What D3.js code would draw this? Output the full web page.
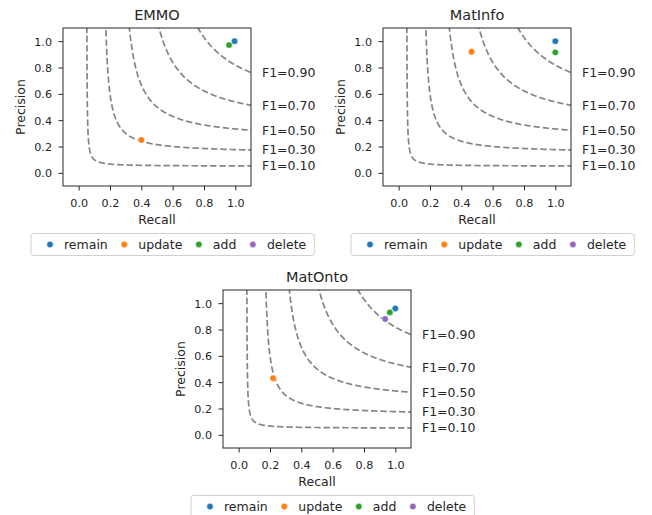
<!DOCTYPE html>
<html><head><meta charset="utf-8">
<script src="https://cdn.jsdelivr.net/npm/d3@7"></script>
<style>
html,body{margin:0;padding:0;background:#fff;}
svg text{font-family:"DejaVu Sans",sans-serif;fill:#262626;}
</style></head>
<body>
<svg id="chart" width="652" height="515"></svg>
<script>
// ---- data ----
const panels = ["EMMO", "MatInfo", "MatOnto"];
const categories = ["remain", "update", "add", "delete"];
const colors = ["#1f77b4", "#ff7f0e", "#2ca02c", "#9467bd"];
// [recall, precision] per category, per panel (null = no point)
const emmoValues    = [[0.995, 1.0], [0.40, 0.25], [0.96, 0.97], null];
const matinfoValues = [[1.0, 1.0], [0.465, 0.92], [1.0, 0.915], null];
const matontoValues = [[1.0, 0.96], [0.22, 0.43], [0.965, 0.93], [0.935, 0.88]];
const fScores = [0.1, 0.3, 0.5, 0.7, 0.9];
const tickValues = [0.0, 0.2, 0.4, 0.6, 0.8, 1.0];
const tickLabels = ["0.0", "0.2", "0.4", "0.6", "0.8", "1.0"];
const axisDomain = [-0.1, 1.1];

const panelValues = [emmoValues, matinfoValues, matontoValues];
const layout = [
  {left: 63, top: 28},
  {left: 383, top: 28},
  {left: 223, top: 290}
];
const W = 188, H = 158;

const svg = d3.select("#chart");

panels.forEach((name, pi) => {
  const L = layout[pi];
  const g = svg.append("g").attr("transform", `translate(${L.left},${L.top})`);
  const x = d3.scaleLinear().domain(axisDomain).range([0, W]);
  const y = d3.scaleLinear().domain(axisDomain).range([H, 0]);

  const clipId = "clip" + pi;
  g.append("clipPath").attr("id", clipId).append("rect")
    .attr("x", 0).attr("y", 0).attr("width", W).attr("height", H);

  // iso-F1 curves
  const line = d3.line().x(d => x(d[0])).y(d => y(d[1]));
  fScores.forEach(f => {
    const x0 = f / 2;
    const pts = [];
    for (let i = 1; i <= 600; i++) {
      const t = i / 600;
      const xv = x0 + 0.0005 + (1.15 - x0) * Math.pow(t, 1.6);
      const yv = f * xv / (2 * xv - f);
      if (yv >= 0 && yv < 3) pts.push([xv, yv]);
    }
    g.append("path").attr("clip-path", `url(#${clipId})`)
      .attr("d", line(pts))
      .attr("fill", "none").attr("stroke", "#858585")
      .attr("stroke-width", 1.7).attr("stroke-dasharray", "6.4,2.9");
    const lx = 1.1;
    const ly = f * lx / (2 * lx - f);
    g.append("text")
      .attr("x", x(1.17)).attr("y", y(ly) + 4.3)
      .attr("font-size", "12.5px")
      .text("F1=" + f.toFixed(2));
  });

  // points
  const vals = panelValues[pi];
  categories.forEach((c, ci) => {
    const v = vals[ci];
    if (!v) return;
    g.append("circle")
      .attr("cx", x(v[0])).attr("cy", y(v[1])).attr("r", 3.2)
      .attr("fill", colors[ci]).attr("stroke", "#fff").attr("stroke-width", 0.5);
  });

  // frame
  g.append("rect").attr("x", 0).attr("y", 0).attr("width", W).attr("height", H)
    .attr("fill", "none").attr("stroke", "#262626").attr("stroke-width", 1);

  // x axis
  const xa = g.append("g").attr("transform", `translate(0,${H})`)
    .call(d3.axisBottom(x).tickValues(tickValues).tickFormat((d, i) => tickLabels[i]).tickSize(4.5).tickPadding(3));
  xa.select(".domain").remove();
  xa.selectAll("line").attr("stroke", "#262626");
  xa.selectAll("text").attr("font-size", "11.2px").attr("font-family", "DejaVu Sans").attr("fill", "#262626")
    .attr("dy", null).attr("y", 21);

  const ya = g.append("g")
    .call(d3.axisLeft(y).tickValues(tickValues).tickFormat((d, i) => tickLabels[i]).tickSize(4.5).tickPadding(3));
  ya.select(".domain").remove();
  ya.selectAll("line").attr("stroke", "#262626");
  ya.selectAll("text").attr("font-size", "11.2px").attr("font-family", "DejaVu Sans").attr("fill", "#262626")
    .attr("dy", null).attr("x", -11).attr("y", 4);

  // labels
  g.append("text").attr("x", W / 2).attr("y", H + 38).attr("text-anchor", "middle")
    .attr("font-size", "12.5px").text("Recall");
  g.append("text").attr("transform", `translate(-38.5,${H / 2}) rotate(-90)`)
    .attr("text-anchor", "middle").attr("font-size", "12.5px").text("Precision");
  g.append("text").attr("x", W / 2).attr("y", -7.8).attr("text-anchor", "middle")
    .attr("font-size", "14.5px").text(name);

  // legend
  const lg = g.append("g").attr("transform", `translate(-32,${H + 47.5})`);
  const box = lg.append("rect").attr("x", 0).attr("y", 0).attr("height", 22)
    .attr("rx", 2.5).attr("fill", "#fff").attr("fill-opacity", 0.8)
    .attr("stroke", "#d0d0d0").attr("stroke-width", 1);
  let cursor = 19;
  categories.forEach((c, ci) => {
    lg.append("circle").attr("cx", cursor).attr("cy", 11).attr("r", 3.2)
      .attr("fill", colors[ci]).attr("stroke", "#fff").attr("stroke-width", 0.5);
    const t = lg.append("text").attr("x", cursor + 14).attr("y", 15.5)
      .attr("font-size", "12.5px").text(c);
    cursor = cursor + 14 + t.node().getComputedTextLength() + 16.5;
  });
  box.attr("width", cursor - 16.5 + 8);
});
</script>
</body></html>
